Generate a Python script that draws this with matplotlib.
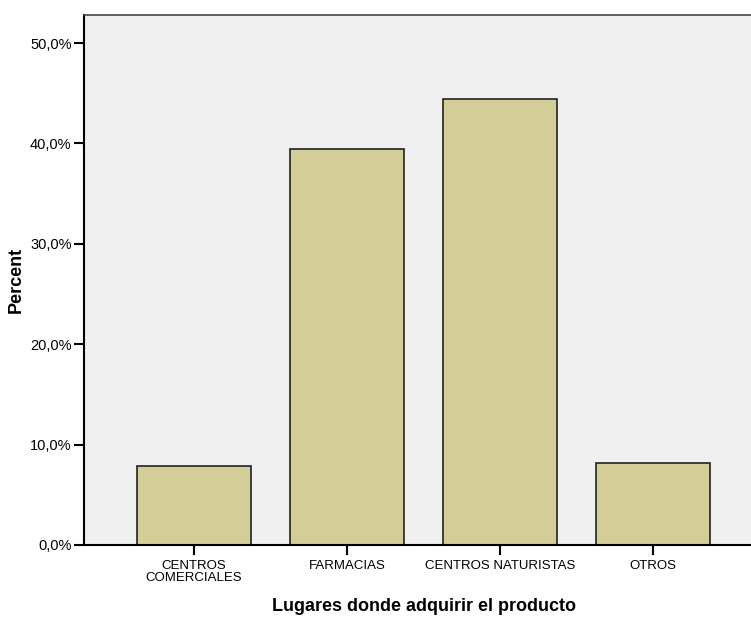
import matplotlib.pyplot as plt
from matplotlib.ticker import FuncFormatter

categories = ['CENTROS\nCOMERCIALES', 'FARMACIAS', 'CENTROS NATURISTAS', 'OTROS']
percent = [7.9, 39.5, 44.4, 8.2]
yticks = [0, 10, 20, 30, 40, 50]

W, H = 751, 617
fig = plt.figure(figsize=(W / 100, H / 100), dpi=100)
plt.rcParams['font.family'] = ['Liberation Sans', 'DejaVu Sans']

# axes runs a little past the right edge of the picture, as in the original
left, right, top, bottom = 84, 763, 15, 545
ax = fig.add_axes([left / W, 1 - bottom / H, (right - left) / W, (bottom - top) / H])
ax.set_facecolor('#f0f0f0')

x = range(len(categories))
ax.bar(x, percent, width=114 / 153, color='#d3ce97', edgecolor='#222222', linewidth=1.2, zorder=2)

ax.set_xlim(-0.719, 3.719)
ax.set_ylim(0, 52.8)
ax.set_xticks(list(x))
ax.set_xticklabels(categories, fontsize=9.5, linespacing=0.95)
ax.set_yticks(yticks)
ax.yaxis.set_major_formatter(FuncFormatter(lambda v, p: f'{v:.1f}%'.replace('.', ',')))
ax.tick_params(axis='y', labelsize=10.5, length=7, width=1.5, direction='out', pad=2)
ax.tick_params(axis='x', length=7, width=1.5, direction='out', pad=4)

for s in ['left', 'bottom']:
    ax.spines[s].set_linewidth(1.5)
ax.spines['top'].set_linewidth(1.2)
ax.spines['top'].set_color('#444444')
ax.spines['right'].set_visible(False)

ax.set_ylabel('Percent', fontsize=13, fontweight='bold', labelpad=4)
ax.set_xlabel('Lugares donde adquirir el producto', fontsize=13, fontweight='bold', labelpad=10)

fig.savefig('out.png', dpi=100)
